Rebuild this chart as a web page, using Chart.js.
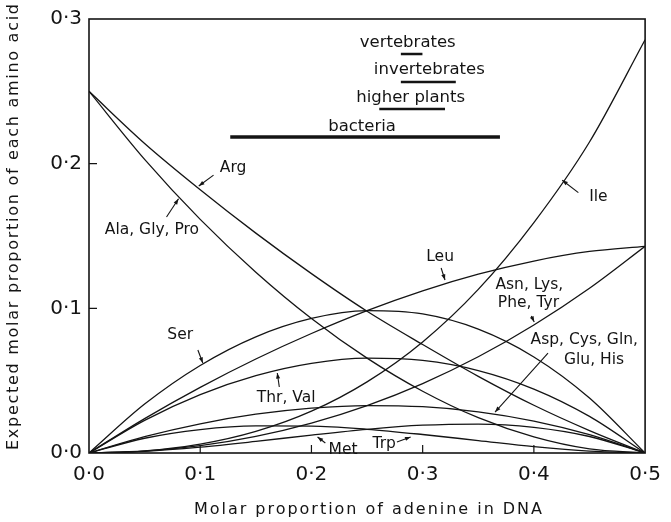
<!DOCTYPE html>
<html>
<head>
<meta charset="utf-8">
<script src="https://cdn.jsdelivr.net/npm/chart.js@4.4.1/dist/chart.umd.min.js"></script>
<style>
  html, body { margin: 0; padding: 0; background: #fff; }
  #wrap { width: 671px; height: 522px; }
</style>
</head>
<body>
<div id="wrap"><canvas id="chart" width="671" height="522"></canvas></div>
<script>
// molar proportion of adenine in DNA (x values)
const adenine = [0, 0.05, 0.10, 0.15, 0.20, 0.25, 0.30, 0.35, 0.40, 0.45, 0.50];

// expected molar proportion of each amino acid
const argValues    = [0.250, 0.214, 0.182, 0.152, 0.124, 0.098, 0.075, 0.053, 0.033, 0.0155, 0];
const alaGlyPro    = [0.250, 0.203, 0.1615, 0.125, 0.093, 0.0656, 0.0427, 0.0244, 0.0111, 0.0028, 0];
const serValues    = [0, 0.0338, 0.0605, 0.0803, 0.093, 0.0984, 0.0961, 0.0856, 0.0664, 0.038, 0];
const leuValues    = [0, 0.0238, 0.0454, 0.065, 0.0826, 0.0984, 0.1121, 0.1236, 0.1327, 0.1393, 0.1429];
const thrVal       = [0, 0.0226, 0.0404, 0.0535, 0.062, 0.0656, 0.064, 0.057, 0.0442, 0.0253, 0];
const aspCysGlnGluHis = [0, 0.0113, 0.0202, 0.0268, 0.031, 0.0328, 0.032, 0.0285, 0.0221, 0.0127, 0];
const asnLysPheTyr = [0, 0.0013, 0.0051, 0.0115, 0.0207, 0.0328, 0.048, 0.0665, 0.0885, 0.1139, 0.1429];
const ileValues    = [0, 0.0014, 0.0061, 0.0149, 0.0289, 0.0492, 0.0768, 0.1131, 0.1593, 0.2150, 0.2857];
const metValues    = [0, 0.0011, 0.004, 0.008, 0.0124, 0.0164, 0.0192, 0.02, 0.0177, 0.0114, 0];
const trpValues    = [0, 0.0102, 0.0162, 0.0187, 0.0186, 0.0164, 0.0128, 0.0086, 0.0044, 0.0013, 0];

// adenine ranges of the organism groups
const groupNames  = ['vertebrates', 'invertebrates', 'higher plants', 'bacteria'];
const groupFrom   = [0.2804, 0.2804, 0.2610, 0.1270];
const groupTo     = [0.2998, 0.3298, 0.3201, 0.3695];
const groupLevel  = [0.2758, 0.2564, 0.2378, 0.2184];

const xTicks = [0, 0.1, 0.2, 0.3, 0.4, 0.5];
const yTicks = [0, 0.1, 0.2, 0.3];

const INK = '#141414';
const FONT = '"DejaVu Sans", "Liberation Sans", sans-serif';

function pts(values) {
    return adenine.map((a, i) => ({ x: a, y: values[i] }));
}

const curveSeries = [argValues, alaGlyPro, serValues, leuValues, thrVal,
    aspCysGlnGluHis, asnLysPheTyr, ileValues, metValues, trpValues];

const datasets = curveSeries.map(v => ({
    data: pts(v),
    borderColor: INK,
    borderWidth: 1.3,
    pointRadius: 0,
    cubicInterpolationMode: 'monotone',
    fill: false
}));

groupNames.forEach((name, i) => {
    datasets.push({
        label: name,
        data: [{ x: groupFrom[i], y: groupLevel[i] }, { x: groupTo[i], y: groupLevel[i] }],
        borderColor: INK,
        borderWidth: name === 'bacteria' ? 3.5 : 2.5,
        borderCapStyle: 'butt',
        pointRadius: 0,
        fill: false
    });
});

// text labels (centre, in data units) and arrows (from -> tip)
const curveLabels = [
    { text: 'Arg', x: 0.1296, y: 0.1970 },
    { text: 'Ala, Gly, Pro', x: 0.0566, y: 0.1540 },
    { text: 'Ser', x: 0.0820, y: 0.0816 },
    { text: 'Thr, Val', x: 0.1772, y: 0.0380 },
    { text: 'Met', x: 0.2284, y: 0.0020 },
    { text: 'Trp', x: 0.2654, y: 0.0062 },
    { text: 'Leu', x: 0.3157, y: 0.1355 },
    { text: 'Asn, Lys,', x: 0.3959, y: 0.1161 },
    { text: 'Phe, Tyr', x: 0.3951, y: 0.1037 },
    { text: 'Asp, Cys, Gln,', x: 0.4453, y: 0.0781 },
    { text: 'Glu, His', x: 0.4541, y: 0.0643 },
    { text: 'Ile', x: 0.4580, y: 0.1770 }
];
const arrows = [
    [0.1120, 0.1921, 0.0987, 0.1846],
    [0.0697, 0.1631, 0.0805, 0.1757],
    [0.0979, 0.0712, 0.1023, 0.0622],
    [0.1711, 0.0456, 0.1693, 0.0553],
    [0.2125, 0.0069, 0.2055, 0.0111],
    [0.2769, 0.0076, 0.2892, 0.0111],
    [0.3166, 0.1279, 0.3201, 0.1196],
    [0.3977, 0.0947, 0.4003, 0.0906],
    [0.4127, 0.0691, 0.3651, 0.0283],
    [0.4400, 0.1800, 0.4255, 0.1885]
];
const groupLabelPos = [
    { x: 0.2866, y: 0.2834 },
    { x: 0.3060, y: 0.2647 },
    { x: 0.2892, y: 0.2454 },
    { x: 0.2455, y: 0.2253 }
];

function fmt(v) {
    return v.toFixed(1).replace('.', '\u00b7');
}

function spacedText(ctx, text, cx, cy, target) {
    ctx.letterSpacing = '0px';
    const w = ctx.measureText(text).width;
    const extra = Math.max(0, (target - w) / (text.length - 1));
    ctx.letterSpacing = extra + 'px';
    ctx.fillText(text, cx + extra / 2, cy);
    ctx.letterSpacing = '0px';
}

const decorations = {
    id: 'decorations',
    afterDatasetsDraw(chart) {
        const { ctx, chartArea: a, scales: { x, y } } = chart;
        ctx.save();
        ctx.strokeStyle = INK;
        ctx.fillStyle = INK;

        // frame
        ctx.lineWidth = 1.6;
        ctx.strokeRect(a.left, a.top, a.right - a.left, a.bottom - a.top);

        // inward tick marks
        ctx.lineWidth = 1.2;
        ctx.beginPath();
        xTicks.slice(1, -1).forEach(t => {
            const px = x.getPixelForValue(t);
            ctx.moveTo(px, a.bottom);
            ctx.lineTo(px, a.bottom - 8);
        });
        yTicks.slice(1, -1).forEach(t => {
            const py = y.getPixelForValue(t);
            ctx.moveTo(a.left, py);
            ctx.lineTo(a.left + 8, py);
        });
        ctx.stroke();

        // arrows
        ctx.lineWidth = 1.1;
        arrows.forEach(([x1, y1, x2, y2]) => {
            const ax = x.getPixelForValue(x1), ay = y.getPixelForValue(y1);
            const bx = x.getPixelForValue(x2), by = y.getPixelForValue(y2);
            ctx.beginPath();
            ctx.moveTo(ax, ay);
            ctx.lineTo(bx, by);
            ctx.stroke();
            const ang = Math.atan2(by - ay, bx - ax);
            const len = 6, half = 0.35;
            ctx.beginPath();
            ctx.moveTo(bx, by);
            ctx.lineTo(bx - len * Math.cos(ang - half), by - len * Math.sin(ang - half));
            ctx.lineTo(bx - len * Math.cos(ang + half), by - len * Math.sin(ang + half));
            ctx.closePath();
            ctx.fill();
        });

        // labels
        ctx.textAlign = 'center';
        ctx.textBaseline = 'middle';
        ctx.font = '15.5px ' + FONT;
        curveLabels.forEach(l => {
            ctx.fillText(l.text, x.getPixelForValue(l.x), y.getPixelForValue(l.y));
        });
        ctx.font = '16.5px ' + FONT;
        groupNames.forEach((name, i) => {
            const p = groupLabelPos[i];
            ctx.fillText(name, x.getPixelForValue(p.x), y.getPixelForValue(p.y));
        });

        // axis titles
        ctx.font = '16px ' + FONT;
        spacedText(ctx, 'Molar proportion of adenine in DNA', 368, 510, 348);
        ctx.translate(14, 227);
        ctx.rotate(-Math.PI / 2);
        spacedText(ctx, 'Expected molar proportion of each amino acid', 0, 0, 446);
        ctx.restore();
    }
};

new Chart(document.getElementById('chart'), {
    type: 'line',
    data: { datasets },
    options: {
        responsive: false,
        animation: false,
        devicePixelRatio: 1,
        layout: { padding: { top: 19, right: 15, left: 0, bottom: 0 } },
        plugins: {
            legend: { display: false },
            tooltip: { enabled: false }
        },
        scales: {
            x: {
                type: 'linear',
                min: 0,
                max: 0.5,
                afterFit: s => { s.height = 69; },
                afterBuildTicks: s => { s.ticks = xTicks.map(v => ({ value: v })); },
                grid: { display: false, drawTicks: false },
                border: { display: false },
                ticks: {
                    padding: 10,
                    color: INK,
                    font: { family: FONT, size: 20 },
                    callback: v => fmt(v)
                }
            },
            y: {
                min: 0,
                max: 0.3,
                afterFit: s => { s.width = 89; },
                afterBuildTicks: s => { s.ticks = yTicks.map(v => ({ value: v })); },
                grid: { display: false, drawTicks: false },
                border: { display: false },
                ticks: {
                    padding: 7,
                    color: INK,
                    font: { family: FONT, size: 20 },
                    callback: v => fmt(v)
                }
            }
        }
    },
    plugins: [decorations]
});
</script>
</body>
</html>
